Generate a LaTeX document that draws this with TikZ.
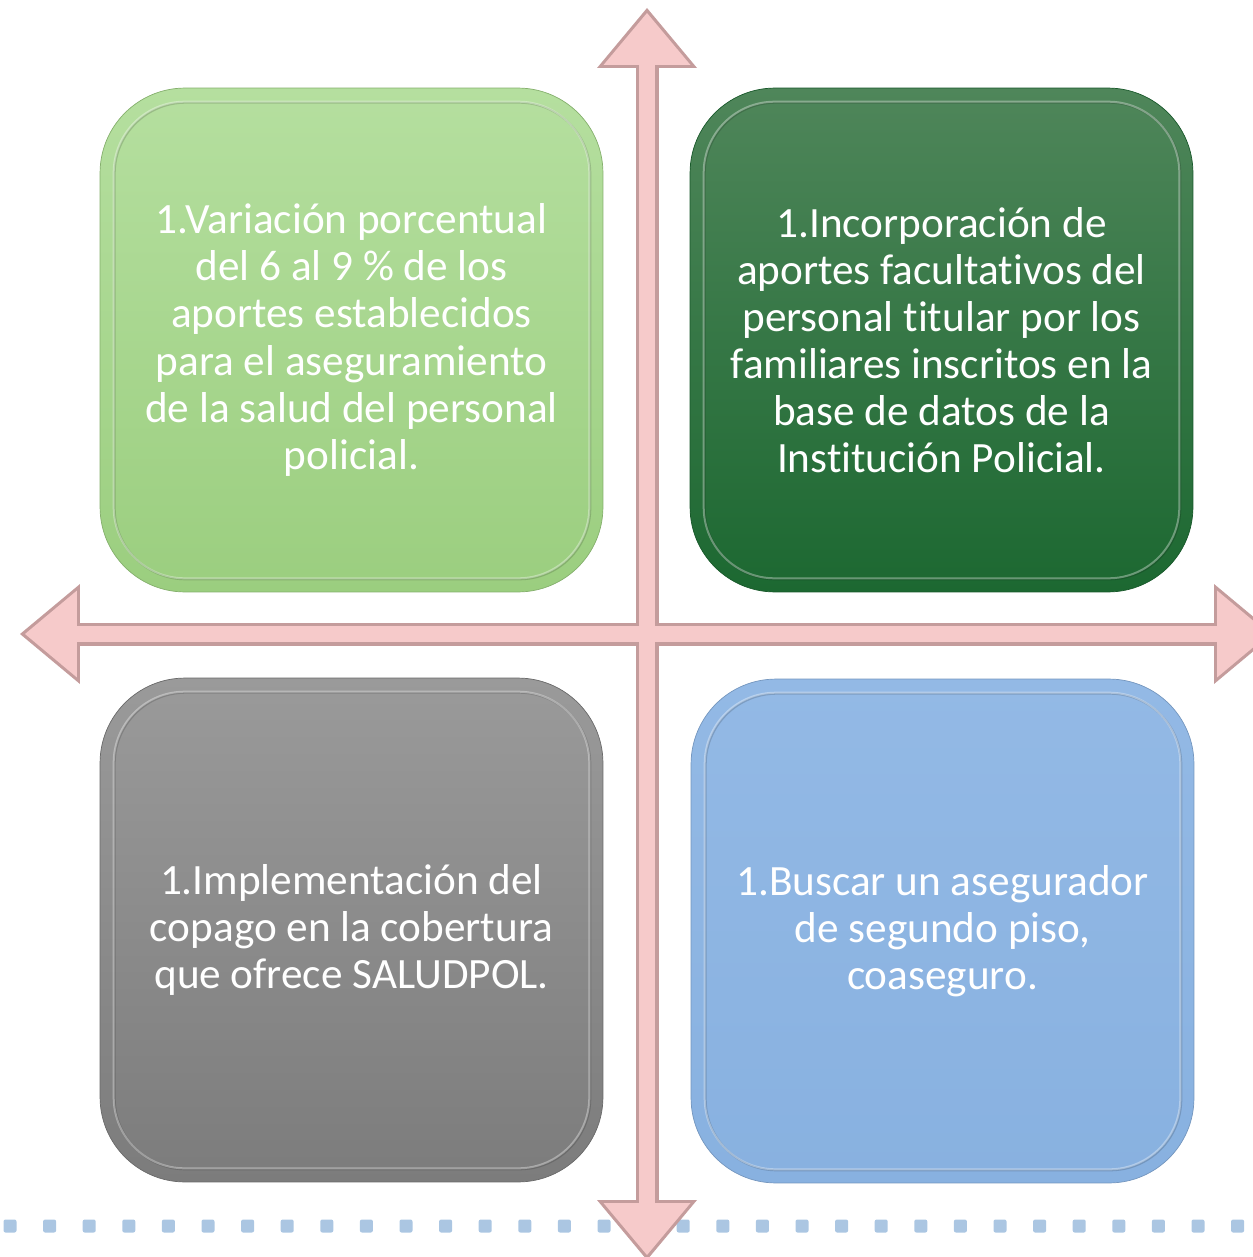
\documentclass[tikz,border=0pt]{standalone}
\usepackage{fontspec}
\setmainfont{Carlito}[Ligatures=NoCommon]
\usetikzlibrary{arrows.meta,positioning,calc}

\definecolor{lgtop}{HTML}{B5DF9F}
\definecolor{lgbot}{HTML}{9BCE7F}
\definecolor{dgtop}{HTML}{4F865A}
\definecolor{dgbot}{HTML}{1C6831}
\definecolor{grtop}{HTML}{9A9A9A}
\definecolor{grbot}{HTML}{7C7C7C}
\definecolor{bltop}{HTML}{93B9E5}
\definecolor{blbot}{HTML}{88B1E0}
\definecolor{axisfill}{HTML}{F6CACA}
\definecolor{axisedge}{HTML}{C49C9C}
\definecolor{dotblue}{HTML}{ABC6E2}

\begin{document}
\begin{tikzpicture}[
  x=0.02cm, y=-0.02cm,
  card/.style={rounded corners=1.7cm, minimum width=10.06cm, minimum height=10.08cm,
    align=center, text=white, font=\fontsize{24.6}{26.8}\selectfont},
  rim/.style={rounded corners=1.42cm, line width=0.04cm},
  axisout/.style={line width=0.46cm, axisedge,
    {Triangle[width=2cm,length=1.2cm,line width=0pt]}-{Triangle[width=2cm,length=1.2cm,line width=0pt]}},
  axisin/.style={line width=0.32cm, axisfill, shorten <=0.1cm, shorten >=0.1cm,
    {Triangle[width=1.74cm,length=1.04cm,line width=0pt]}-{Triangle[width=1.74cm,length=1.04cm,line width=0pt]}}
]
  \useasboundingbox (0,0) rectangle (1253,1257);
  \clip (0,0) rectangle (1253,1257);

  % dotted base line
  \foreach \i in {0,...,31}
    \fill[dotblue, rounded corners=0.04cm] (10+39.6*\i-6.5,1219.5) rectangle ++(13,13);

  % axes
  \coordinate (ax-n) at (647,8);
  \coordinate (ax-s) at (647,1260);
  \coordinate (ax-w) at (20,634);
  \coordinate (ax-e) at (1274,634);
  \draw[axisout] (ax-n) -- (ax-s);
  \draw[axisout] (ax-w) -- (ax-e);
  \draw[axisin] (ax-n) -- (ax-s);
  \draw[axisin] (ax-w) -- (ax-e);

  % quadrants
  \node[card, top color=lgtop, bottom color=lgbot, draw=lgbot!85!black] (aportes) at (351.5,340)
    {1.Variación porcentual\\del 6 al 9 \% de los\\aportes establecidos\\para el aseguramiento\\de la salud del personal\\policial.};
  \node[card, top color=dgtop, bottom color=dgbot, draw=dgbot!85!black] (facultativos) at (941.5,340)
    {1.Incorporación de\\aportes facultativos del\\personal titular por los\\familiares inscritos en la\\base de datos de la\\Institución Policial.};
  \node[card, top color=grtop, bottom color=grbot, draw=grbot!85!black] (copago) at (351.5,930)
    {1.Implementación del\\copago en la cobertura\\que ofrece SALUDPOL.};
  \node[card, top color=bltop, bottom color=blbot, draw=blbot!85!black] (coseguro) at (942.5,931)
    {1.Buscar un asegurador\\de segundo piso,\\coaseguro.};

  \foreach \b in {aportes,facultativos,copago,coseguro} {
    \draw[rim, black, opacity=0.15] ([shift={(15,-13)}]\b.south west) rectangle ([shift={(-13,15)}]\b.north east);
    \draw[rim, white, opacity=0.35] ([shift={(14,-14)}]\b.south west) rectangle ([shift={(-14,14)}]\b.north east);
  }
\end{tikzpicture}
\end{document}
